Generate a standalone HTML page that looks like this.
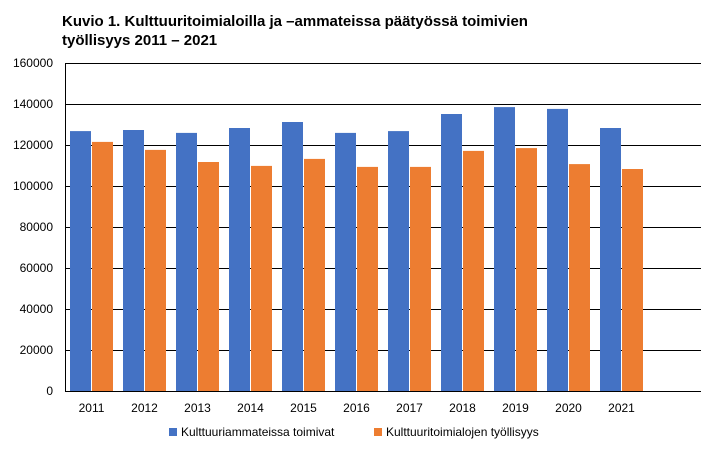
<!DOCTYPE html>
<html><head><meta charset="utf-8"><style>
body{margin:0;background:#fff;width:718px;height:454px;overflow:hidden;font-family:"Liberation Sans",sans-serif}
</style></head><body>
<svg width="718" height="454" xmlns="http://www.w3.org/2000/svg" font-family="Liberation Sans, sans-serif">
<text x="62" y="26" font-size="15" font-weight="bold" fill="#000">Kuvio 1. Kulttuuritoimialoilla ja –ammateissa päätyössä toimivien</text>
<text x="62" y="45" font-size="15" font-weight="bold" fill="#000">työllisyys 2011 – 2021</text>
<g stroke="#000" stroke-width="1">
<line x1="65" y1="63.5" x2="701" y2="63.5"/><line x1="65" y1="104.5" x2="701" y2="104.5"/><line x1="65" y1="145.5" x2="701" y2="145.5"/><line x1="65" y1="186.5" x2="701" y2="186.5"/><line x1="65" y1="227.5" x2="701" y2="227.5"/><line x1="65" y1="268.5" x2="701" y2="268.5"/><line x1="65" y1="309.5" x2="701" y2="309.5"/><line x1="65" y1="350.5" x2="701" y2="350.5"/><line x1="65" y1="391.5" x2="701" y2="391.5"/>
<line x1="65.5" y1="63" x2="65.5" y2="391"/>
</g>
<g font-size="12" fill="#000" text-anchor="end">
<text x="53" y="67">160000</text><text x="53" y="108">140000</text><text x="53" y="149">120000</text><text x="53" y="190">100000</text><text x="53" y="231">80000</text><text x="53" y="272">60000</text><text x="53" y="313">40000</text><text x="53" y="354">20000</text><text x="53" y="395">0</text>
</g>
<g fill="#4472C4">
<rect x="70" y="131.1" width="21" height="259.9"/>
<rect x="123" y="130" width="21" height="261"/>
<rect x="176" y="132.9" width="21" height="258.1"/>
<rect x="229" y="128" width="21" height="263"/>
<rect x="282" y="122" width="21" height="269"/>
<rect x="335" y="132.9" width="21" height="258.1"/>
<rect x="388" y="131.1" width="21" height="259.9"/>
<rect x="441" y="114" width="21" height="277"/>
<rect x="494" y="107.1" width="21" height="283.9"/>
<rect x="547" y="108.9" width="21" height="282.1"/>
<rect x="600" y="128" width="21" height="263"/>
</g>
<g fill="#ED7D31">
<rect x="92" y="141.9" width="21" height="249.1"/>
<rect x="145" y="149.9" width="21" height="241.1"/>
<rect x="198" y="162" width="21" height="229"/>
<rect x="251" y="165.9" width="21" height="225.1"/>
<rect x="304" y="158.9" width="21" height="232.1"/>
<rect x="357" y="166.9" width="21" height="224.1"/>
<rect x="410" y="166.9" width="21" height="224.1"/>
<rect x="463" y="150.9" width="21" height="240.1"/>
<rect x="516" y="148.1" width="21" height="242.9"/>
<rect x="569" y="164.1" width="21" height="226.9"/>
<rect x="622" y="169" width="21" height="222"/>
</g>
<g font-size="12" fill="#000" text-anchor="middle">
<text x="91.5" y="412">2011</text><text x="144.5" y="412">2012</text><text x="197.5" y="412">2013</text><text x="250.5" y="412">2014</text><text x="303.5" y="412">2015</text><text x="356.5" y="412">2016</text><text x="409.5" y="412">2017</text><text x="462.5" y="412">2018</text><text x="515.5" y="412">2019</text><text x="568.5" y="412">2020</text><text x="621.5" y="412">2021</text>
</g>
<rect x="169" y="428" width="8" height="8" fill="#4472C4"/>
<text x="181" y="436" font-size="12">Kulttuuriammateissa toimivat</text>
<rect x="374" y="428" width="8" height="8" fill="#ED7D31"/>
<text x="386" y="436" font-size="12">Kulttuuritoimialojen työllisyys</text>
</svg>
</body></html>
